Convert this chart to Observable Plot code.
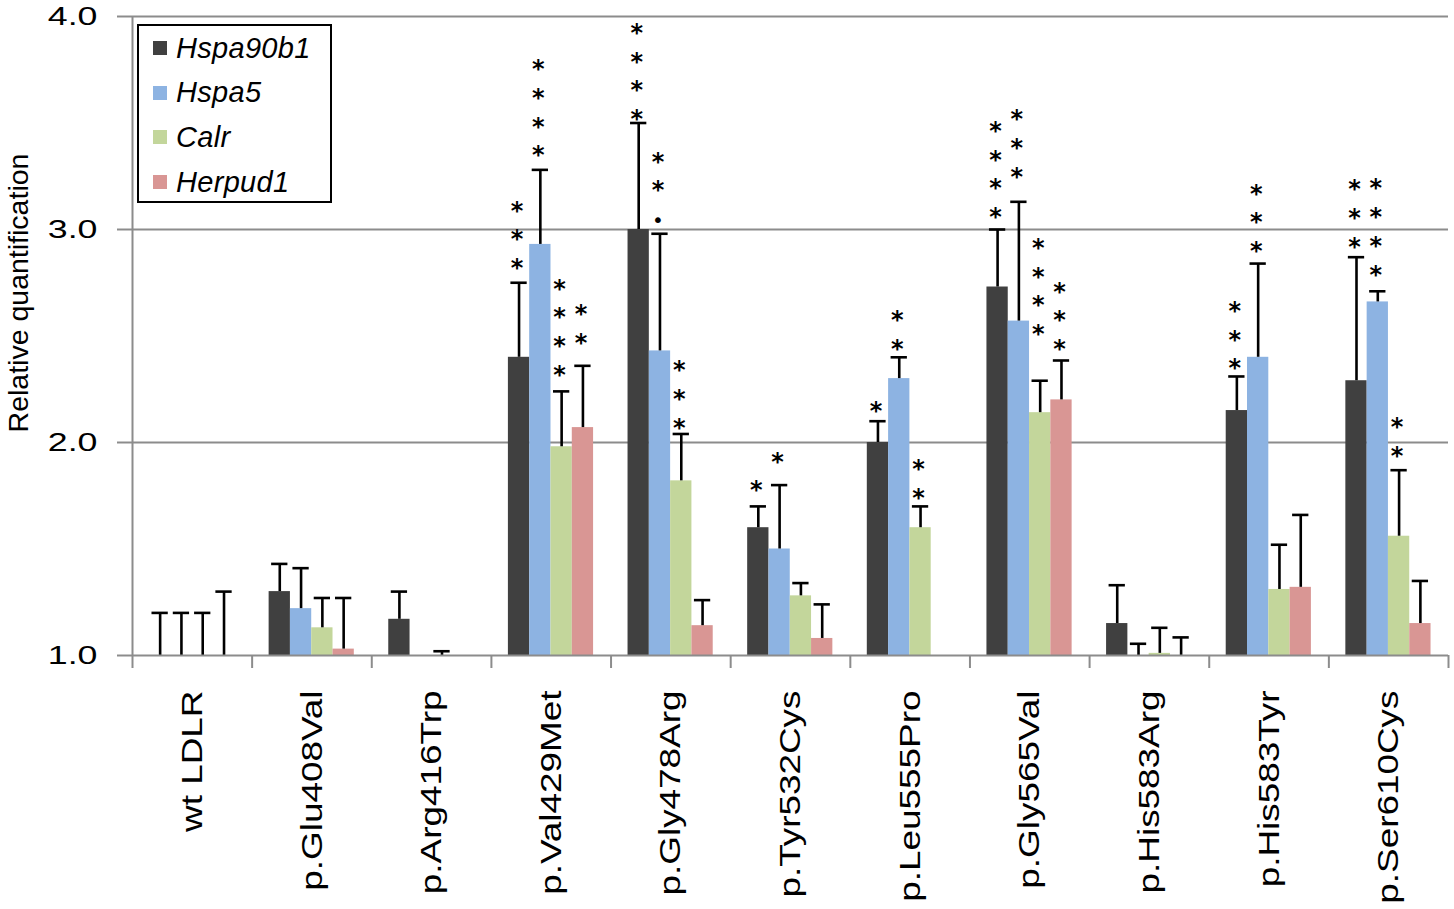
<!DOCTYPE html>
<html>
<head>
<meta charset="utf-8">
<script src="https://cdn.jsdelivr.net/npm/d3@7"></script>
<script src="https://cdn.jsdelivr.net/npm/@observablehq/plot@0.6"></script>
<style>
  body { margin: 0; background: #fff; }
  #wrap { position: relative; width: 1454px; height: 909px; overflow: hidden; }
  #legend {
    position: absolute; left: 137px; top: 24px; width: 191px; height: 175px;
    border: 2px solid #000; background: #fff;
    font-family: "Liberation Sans", Arial, sans-serif; font-style: italic;
    font-size: 29px; letter-spacing: 0.3px; color: #000;
  }
  #legend .row { position: absolute; left: 0; height: 30px; display: flex; align-items: center; }
  #legend .sw { width: 14px; height: 14px; margin-left: 14px; margin-right: 9px; }
</style>
</head>
<body>
<div id="wrap"><div id="chart"></div><div id="legend"></div></div>
<script>
// ---- data ----
const groups = ["wt LDLR","p.Glu408Val","p.Arg416Trp","p.Val429Met","p.Gly478Arg","p.Tyr532Cys","p.Leu555Pro","p.Gly565Val","p.His583Arg","p.His583Tyr","p.Ser610Cys"];
const genes = ["Hspa90b1","Hspa5","Calr","Herpud1"];
const geneColors = ["#404040","#8DB3E2","#C3D69B","#D99694"];
const yTicks = [1, 2, 3, 4];

const hspa90b1 = [1.00, 1.30, 1.17, 2.40, 3.00, 1.60, 2.00, 2.73, 1.15, 2.15, 2.29];
const hspa90b1Err = [0.20, 0.13, 0.13, 0.35, 0.50, 0.10, 0.10, 0.27, 0.18, 0.16, 0.58];
const hspa5 = [1.00, 1.22, 1.00, 2.93, 2.43, 1.50, 2.30, 2.57, 1.00, 2.40, 2.66];
const hspa5Err = [0.20, 0.19, 0.00, 0.35, 0.55, 0.30, 0.10, 0.56, 0.055, 0.44, 0.05];
const calr = [1.00, 1.13, 1.00, 1.98, 1.82, 1.28, 1.60, 2.14, 1.01, 1.31, 1.56];
const calrErr = [0.20, 0.14, 0.02, 0.26, 0.22, 0.06, 0.10, 0.15, 0.12, 0.21, 0.31];
const herpud1 = [1.00, 1.03, 1.00, 2.07, 1.14, 1.08, 1.00, 2.20, 1.00, 1.32, 1.15];
const herpud1Err = [0.30, 0.24, 0.00, 0.29, 0.12, 0.16, 0.00, 0.185, 0.085, 0.34, 0.20];

// significance marks (top to bottom) and the level of the lowest mark
const hspa90b1Sig = ["", "", "", "***", "****", "*", "*", "****", "", "***", "***"];
const hspa90b1SigAt = [null, null, null, 2.83, 3.53, 1.79, 2.16, 3.07, null, 2.36, 2.93];
const hspa5Sig = ["", "", "", "****", "**•", "*", "**", "***", "", "***", "****"];
const hspa5SigAt = [null, null, null, 3.36, 3.06, 1.92, 2.45, 3.26, null, 2.91, 2.80];
const calrSig = ["", "", "", "****", "***", "", "**", "****", "", "", "**"];
const calrSigAt = [null, null, null, 2.33, 2.08, null, 1.75, 2.52, null, null, 1.95];
const herpud1Sig = ["", "", "", "**", "", "", "", "***", "", "", ""];
const herpud1SigAt = [null, null, null, 2.48, null, null, null, 2.45, null, null, null];

const yLabel = "Relative quantification";

// ---- build table ----
const series = [
  [hspa90b1, hspa90b1Err, hspa90b1Sig, hspa90b1SigAt],
  [hspa5, hspa5Err, hspa5Sig, hspa5SigAt],
  [calr, calrErr, calrSig, calrSigAt],
  [herpud1, herpud1Err, herpud1Sig, herpud1SigAt]
];
const off = 0.142, bw = 0.178;
const rows = [];
groups.forEach((g, i) => {
  genes.forEach((gene, j) => {
    const [v, e, s, sa] = series[j];
    const x1 = i + off + j * bw;
    const sym = s[i].split("").reverse(); // from the bottom mark upwards
    rows.push({group: g, gene, value: v[i], upper: v[i] + e[i], err: e[i],
      sym, sigAt: sa[i], x1, x2: x1 + bw, xc: x1 + bw / 2});
  });
});
const errRows = rows.filter(d => d.err > 0);
const step = 28.7; // vertical spacing of stacked significance marks (px)
const sigFont = "'DejaVu Sans', sans-serif";
const sigSize = 24;
const dotSize = 20;

const gray = "#8c8c8c";
const font = "'Liberation Sans', Arial, sans-serif";

const sigMarks = [];
for (let k = 0; k < 4; ++k) {
  sigMarks.push(Plot.text(rows.filter(d => d.sym[k] === "*"), {
    x: "xc", y: "sigAt", text: () => "*", lineAnchor: "bottom",
    dy: -k * step + 0.6 * sigSize - 4, dx: -2,
    fontSize: sigSize, fontWeight: "bold", fontFamily: sigFont, fill: "#000"
  }));
  sigMarks.push(Plot.text(rows.filter(d => d.sym[k] === "•"), {
    x: "xc", y: "sigAt", text: () => "•", lineAnchor: "bottom",
    dy: -k * step + 0.36 * dotSize + 3, dx: -2,
    fontSize: dotSize, fontFamily: sigFont, fill: "#000"
  }));
}

const chart = Plot.plot({
  width: 1454, height: 909,
  marginLeft: 132, marginRight: 6, marginTop: 16, marginBottom: 254,
  style: {fontFamily: font, background: "#fff", color: "#000"},
  x: {type: "linear", domain: [0, groups.length], axis: null},
  y: {domain: [1, 4], axis: null},
  color: {domain: genes, range: geneColors},
  marks: [
    Plot.gridY(yTicks.slice(1), {stroke: gray, strokeOpacity: 1, strokeWidth: 2}),
    Plot.rectY(rows, {x1: "x1", x2: "x2", y1: 1, y2: "value", fill: "gene"}),
    Plot.ruleX(errRows, {x: "xc", y1: "value", y2: "upper", stroke: "#000", strokeWidth: 2.6}),
    Plot.ruleY(errRows, {y: "upper", x1: "x1", x2: "x2", insetLeft: 2.5, insetRight: 2.5, stroke: "#000", strokeWidth: 2.6}),
    ...sigMarks,
    Plot.ruleX([0], {stroke: gray, strokeWidth: 2}),
    Plot.ruleY([1], {stroke: gray, strokeWidth: 2}),
    Plot.axisY({ticks: yTicks, tickFormat: d3.format(".1f"), tickSize: 15, tickPadding: 20,
      fontSize: 25, stroke: gray, strokeWidth: 2, label: null}),
    Plot.axisX({ticks: d3.range(groups.length + 1), tickSize: 13, tickFormat: () => "",
      stroke: gray, strokeWidth: 2, label: null}),
    Plot.axisX({ticks: groups.map((g, i) => i + 0.5), tickSize: 0, tickPadding: 35, tickRotate: -90,
      tickFormat: d => groups[Math.floor(d)], fontSize: 30, label: null}),
    Plot.text([yLabel], {frameAnchor: "left", rotate: -90, textAnchor: "middle", dx: -114, dy: -43,
      fontSize: 28.5, fill: "#000", fontFamily: font})
  ]
});
document.getElementById("chart").appendChild(chart);

// horizontally widened glyphs, like the original bitmap text
function widen(sel, sx) {
  d3.select(chart).selectAll(sel).each(function() {
    const t = this.getAttribute("transform");
    if (t) {
      this.setAttribute("transform", t + ` scale(${sx},1)`);
    } else {
      const x = +this.getAttribute("x") || 0, y = +this.getAttribute("y") || 0;
      this.setAttribute("x", 0); this.setAttribute("y", 0);
      this.setAttribute("transform", `translate(${x},${y}) scale(${sx},1)`);
    }
  });
}
widen('g[aria-label="y-axis tick label"] text', 1.43);
widen('g[aria-label="x-axis tick label"] text', 1.23);

// legend
const leg = d3.select("#legend");
genes.forEach((g, j) => {
  const r = leg.append("div").attr("class", "row").style("top", (7 + j * 44.7) + "px");
  r.append("div").attr("class", "sw").style("background", geneColors[j]);
  r.append("span").text(g);
});
</script>
</body>
</html>
